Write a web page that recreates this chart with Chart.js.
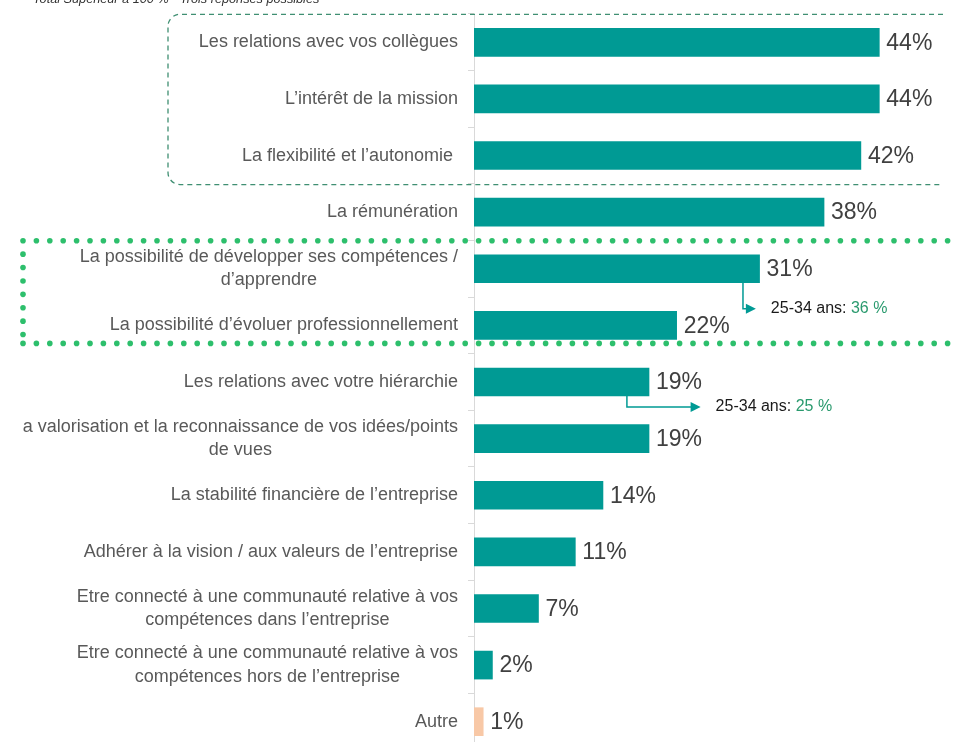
<!DOCTYPE html>
<html>
<head>
<meta charset="utf-8">
<script src="https://cdn.jsdelivr.net/npm/chart.js@4.4.0/dist/chart.umd.min.js"></script>
<style>
  html, body { margin: 0; padding: 0; background: #fff; overflow: hidden; }
  #wrap { width: 953px; height: 750px; }
</style>
</head>
<body>
<div id="wrap"><canvas id="criteres" width="953" height="750"></canvas></div>
<script>
const categories = [
  ['Les relations avec vos collègues'],
  ['L\u2019intérêt de la mission'],
  ['La flexibilité et l\u2019autonomie '],
  ['La rémunération'],
  ['La possibilité de développer ses compétences /', 'd\u2019apprendre'],
  ['La possibilité d\u2019évoluer professionnellement'],
  ['Les relations avec votre hiérarchie'],
  ['a valorisation et la reconnaissance de vos idées/points', 'de vues'],
  ['La stabilité financière de l\u2019entreprise'],
  ['Adhérer à la vision / aux valeurs de l\u2019entreprise'],
  ['Etre connecté à une communauté relative à vos', 'compétences dans l\u2019entreprise'],
  ['Etre connecté à une communauté relative à vos', 'compétences hors de l\u2019entreprise'],
  ['Autre']
];
const values = [44, 44, 42, 38, 31, 22, 19, 19, 14, 11, 7, 2, 1];
const barColors = values.map((v, i) => i === values.length - 1 ? '#f8c8a6' : '#009a94');

// sous-groupe 25-34 ans : index de la barre, valeur, départ de la flèche (en %), fin de la flèche (en %)
const subgroupIdx = [4, 6];
const subgroupVals = ['36 %', '25 %'];
const arrowFrom = [29.2, 16.6];
const arrowTo = [30.6, 24.6];

const note = 'Total Supérieur à 100 % - Trois réponses possibles';

const overlays = {
  id: 'overlays',
  afterDraw(chart) {
    const ctx = chart.ctx;
    const x = chart.scales.x, y = chart.scales.y;
    const area = chart.chartArea;
    ctx.save();

    // libellés des catégories (bloc aligné à droite, lignes centrées)
    ctx.font = '18px "Liberation Sans", Arial, sans-serif';
    ctx.fillStyle = '#595959';
    ctx.textAlign = 'center';
    ctx.textBaseline = 'middle';
    const right = area.left - 16;
    categories.forEach((lines, i) => {
      const w = Math.max(...lines.map(l => ctx.measureText(l).width));
      const cx = right - w / 2;
      const cy = y.getPixelForValue(i);
      const lh = 23.5;
      lines.forEach((l, k) => {
        ctx.fillText(l, cx, cy + (k - (lines.length - 1) / 2) * lh);
      });
    });

    // valeurs
    ctx.font = '23px "Liberation Sans", Arial, sans-serif';
    ctx.fillStyle = '#404040';
    ctx.textAlign = 'left';
    values.forEach((v, i) => {
      ctx.fillText(v + '%', x.getPixelForValue(v) + 7, y.getPixelForValue(i) + 1);
    });

    // flèches 25-34 ans
    const drops = [26, 11];
    subgroupIdx.forEach((idx, k) => {
      const ax = x.getPixelForValue(arrowFrom[k]);
      const top = y.getPixelForValue(idx) + 14;
      const ay = top + drops[k];
      const endX = x.getPixelForValue(arrowTo[k]);
      ctx.strokeStyle = '#009a94';
      ctx.lineWidth = 1.5;
      ctx.beginPath();
      ctx.moveTo(ax, top);
      ctx.lineTo(ax, ay);
      ctx.lineTo(endX - 6, ay);
      ctx.stroke();
      ctx.fillStyle = '#009a94';
      ctx.beginPath();
      ctx.moveTo(endX, ay);
      ctx.lineTo(endX - 10, ay - 5);
      ctx.lineTo(endX - 10, ay + 5);
      ctx.closePath();
      ctx.fill();
      ctx.font = '16px "Liberation Sans", Arial, sans-serif';
      ctx.textBaseline = 'middle';
      const tx = endX + 15;
      const pre = '25-34 ans: ';
      ctx.fillStyle = '#1a1a1a';
      ctx.fillText(pre, tx, ay);
      ctx.fillStyle = '#2a9a6e';
      ctx.fillText(subgroupVals[k], tx + ctx.measureText(pre).width, ay);
    });

    // cadre en tirets autour des 3 premiers critères
    const b0 = y.getPixelForValue(0) - 28;
    const b1 = y.getPixelForValue(2) + 29;
    ctx.strokeStyle = '#3f8f72';
    ctx.lineWidth = 1.3;
    ctx.setLineDash([5, 4]);
    const L = 168, R = 943, r = 12;
    ctx.beginPath();
    ctx.moveTo(R, b0);
    ctx.lineTo(L + r, b0);
    ctx.arcTo(L, b0, L, b0 + r, r);
    ctx.lineTo(L, b1 - r);
    ctx.arcTo(L, b1, L + r, b1, r);
    ctx.lineTo(R, b1);
    ctx.stroke();
    ctx.setLineDash([]);

    // cadre en points autour des critères de développement
    const d0 = y.getPixelForValue(4) - 28;
    const d1 = y.getPixelForValue(5) + 18;
    ctx.fillStyle = '#2dbf6c';
    const dot = (px, py) => { ctx.beginPath(); ctx.arc(px, py, 2.8, 0, Math.PI * 2); ctx.fill(); };
    for (let px = 23; px <= chart.width + 5; px += 13.4) { dot(px, d0); dot(px, d1); }
    for (let py = d0 + 13.4; py < d1 - 5; py += 13.4) dot(23, py);

    // note en haut (coupée par le bord)
    ctx.font = 'italic 12.7px "Liberation Sans", Arial, sans-serif';
    ctx.fillStyle = '#333';
    ctx.textBaseline = 'alphabetic';
    ctx.fillText(note, 33, 3);

    ctx.restore();
  }
};

new Chart(document.getElementById('criteres'), {
  type: 'bar',
  data: {
    labels: categories,
    datasets: [{
      data: values,
      backgroundColor: barColors,
      borderWidth: 0,
      barThickness: 28
    }]
  },
  options: {
    indexAxis: 'y',
    responsive: false,
    animation: false,
    layout: { padding: { top: 14, right: 0, bottom: 0, left: 0 } },
    plugins: { legend: { display: false }, tooltip: { enabled: false } },
    scales: {
      x: {
        display: false,
        min: 0,
        max: 52
      },
      y: {
        afterFit(scale) { scale.width = 474; },
        ticks: { display: false },
        grid: {
          offset: true,
          drawOnChartArea: false,
          drawTicks: true,
          tickLength: 6,
          color: '#d9d9d9'
        },
        border: { color: '#d9d9d9', width: 1 }
      }
    }
  },
  plugins: [overlays]
});
</script>
</body>
</html>
